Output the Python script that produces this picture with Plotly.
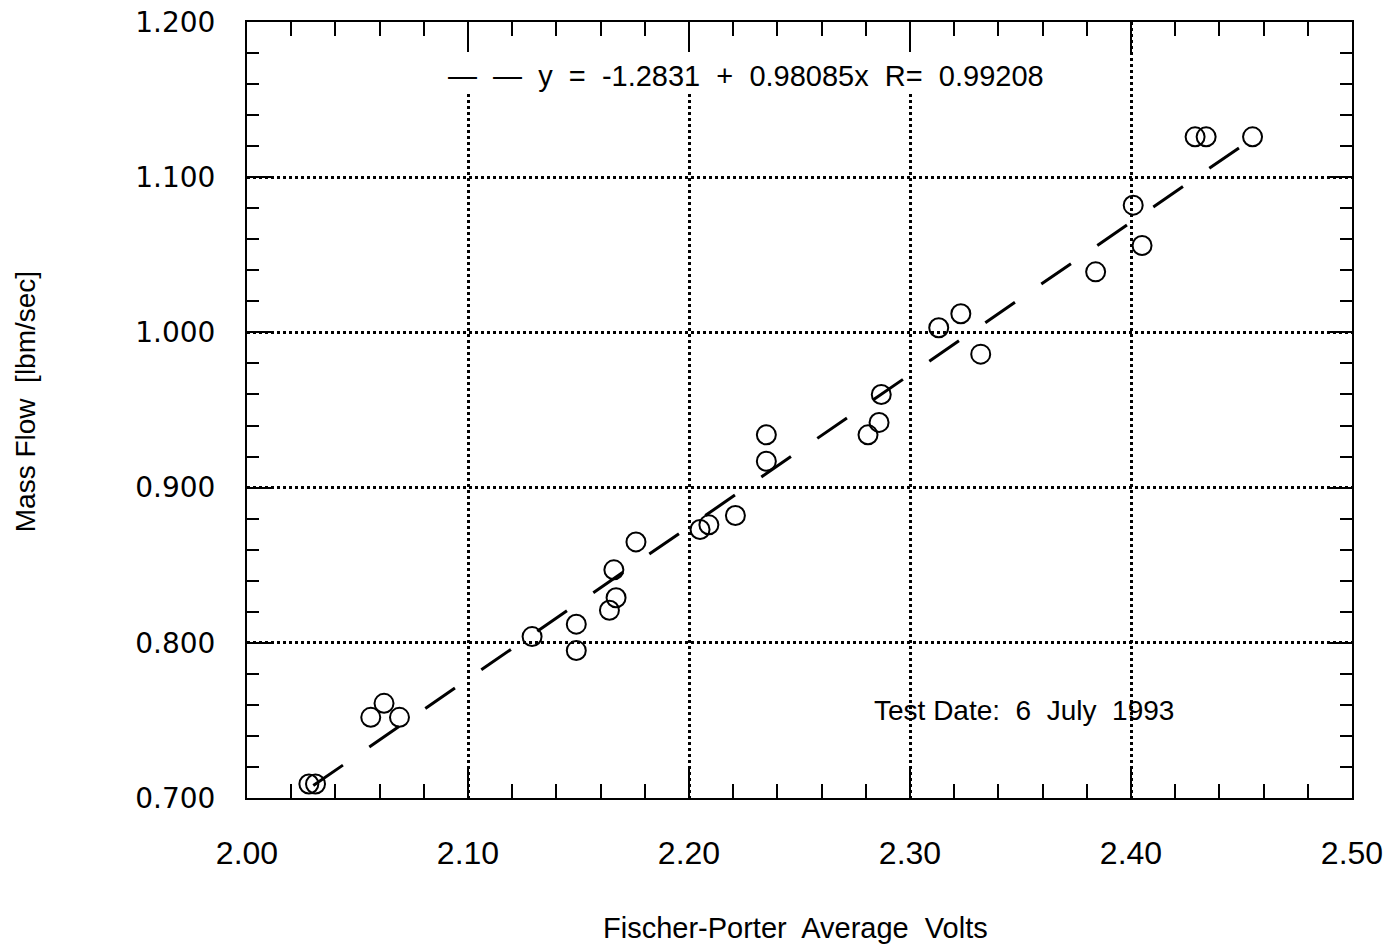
import plotly.graph_objects as go

# Data (Fischer-Porter average volts vs mass flow)
volts = [2.028, 2.031, 2.056, 2.062, 2.069, 2.129, 2.149, 2.149, 2.164, 2.166,
         2.167, 2.176, 2.205, 2.209, 2.221, 2.235, 2.235, 2.281, 2.286, 2.287,
         2.313, 2.323, 2.332, 2.384, 2.401, 2.405, 2.429, 2.434, 2.455]
mass_flow = [0.709, 0.709, 0.752, 0.761, 0.752, 0.804, 0.812, 0.795, 0.821, 0.847,
             0.829, 0.865, 0.873, 0.876, 0.882, 0.934, 0.917, 0.934, 0.942, 0.960,
             1.003, 1.012, 0.986, 1.039, 1.082, 1.056, 1.126, 1.126, 1.126]

fit_intercept = -1.2831
fit_slope = 0.98085
fit_r = 0.99208
fit_x = [2.030, 2.457]
fit_y = [fit_intercept + fit_slope * v for v in fit_x]

x_ticks = [2.00, 2.10, 2.20, 2.30, 2.40, 2.50]
x_tick_labels = ["2.00", "2.10", "2.20", "2.30", "2.40", "2.50"]
y_ticks = [0.7, 0.8, 0.9, 1.0, 1.1, 1.2]
y_tick_labels = ["0.700", "0.800", "0.900", "1.000", "1.100", "1.200"]

fig = go.Figure()

fig.add_trace(go.Scatter(
    x=fit_x, y=fit_y, mode="lines",
    line=dict(color="black", width=3, dash="36px,32px"),
    showlegend=False, hoverinfo="skip"))

fig.add_trace(go.Scatter(
    x=volts, y=mass_flow, mode="markers",
    marker=dict(symbol="circle-open", size=19, color="black",
                line=dict(color="black", width=2)),
    showlegend=False))

# white patch behind the equation text (grid stops under it)
fig.add_shape(type="rect", xref="x", yref="y",
              x0=2.08, x1=2.38, y0=1.155, y1=1.2,
              fillcolor="white", line=dict(width=0), layer="between")

fig.add_annotation(
    xref="paper", yref="paper", x=0.4516, y=0.93,
    text="\u2014  \u2014  y  =  -1.2831  +  0.98085x  R=  0.99208",
    showarrow=False, font=dict(family="Liberation Sans", size=29, color="black"),
    xanchor="center", yanchor="middle")

fig.add_annotation(
    xref="paper", yref="paper", x=0.703, y=0.1134,
    text="Test Date:  6  July  1993",
    showarrow=False, font=dict(family="Liberation Sans", size=28, color="black"),
    xanchor="center", yanchor="middle")

fig.add_annotation(
    xref="paper", yref="paper", x=-0.2009, y=0.51,
    text="Mass Flow  [lbm/sec]", textangle=-90,
    showarrow=False, font=dict(family="Liberation Sans", size=28, color="black"),
    xanchor="center", yanchor="middle")

fig.add_annotation(
    xref="paper", yref="paper", x=0.496, y=-0.1675,
    text="Fischer-Porter  Average  Volts",
    showarrow=False, font=dict(family="Liberation Sans", size=29, color="black"),
    xanchor="center", yanchor="middle")

fig.update_xaxes(
    range=[2.0, 2.5], tickvals=x_ticks, ticktext=x_tick_labels,
    ticks="inside", ticklen=30, tickwidth=2, tickcolor="black",
    minor=dict(dtick=0.02, tick0=2.0, ticks="inside", ticklen=14,
               tickwidth=2, tickcolor="black", showgrid=False),
    showline=True, linecolor="black", linewidth=2, mirror="allticks",
    showgrid=True, gridcolor="black", griddash="dot", gridwidth=2.5,
    zeroline=False, ticklabelstandoff=26, ticklabeloverflow="allow",
    automargin=False,
    tickfont=dict(family="Liberation Sans", size=32, color="black"))

fig.update_yaxes(
    range=[0.7, 1.2], tickvals=y_ticks, ticktext=y_tick_labels,
    ticks="inside", ticklen=24, tickwidth=2, tickcolor="black",
    minor=dict(dtick=0.02, tick0=0.7, ticks="inside", ticklen=12,
               tickwidth=2, tickcolor="black", showgrid=False),
    showline=True, linecolor="black", linewidth=2, mirror="allticks",
    showgrid=True, gridcolor="black", griddash="dot", gridwidth=2.5,
    zeroline=False, ticklabelstandoff=24, ticklabeloverflow="allow",
    automargin=False,
    tickfont=dict(family="DejaVu Sans", size=28, color="black"))

fig.update_layout(
    width=1392, height=947,
    margin=dict(l=247, r=40, t=22, b=149, autoexpand=False),
    plot_bgcolor="white", paper_bgcolor="white",
    showlegend=False)

fig.write_html("out.html",
               config={"displayModeBar": False},
               post_script="document.body.style.margin='0';document.body.style.overflow='hidden';")
